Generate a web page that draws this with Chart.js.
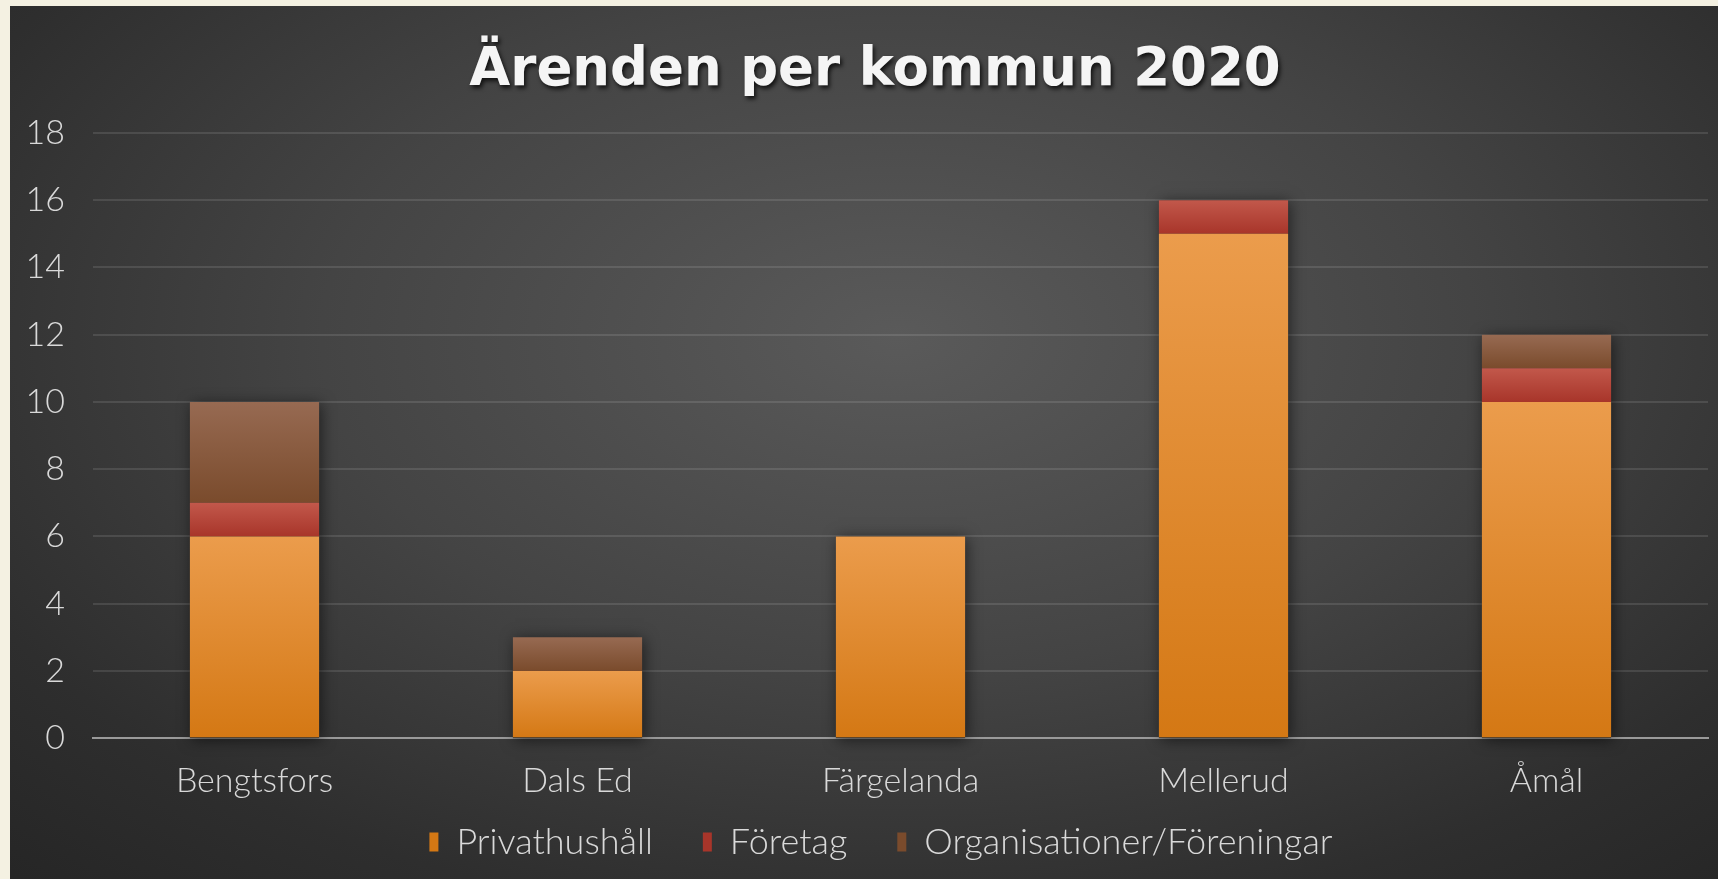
<!DOCTYPE html>
<html>
<head>
<meta charset="utf-8">
<script src="https://cdn.jsdelivr.net/npm/chart.js@4.4.1/dist/chart.umd.min.js"></script>
<style>
  html, body { margin: 0; padding: 0; background: #f4f1e2; }
  #panel {
    position: absolute; left: 10px; top: 6px; width: 1708px; height: 873px;
    background: radial-gradient(ellipse 75% 85% at 52% 38%, #5a5a5a 0%, #444 45%, #2e2e2e 80%, #262626 100%);
  }
  #chart { display: block; }
</style>
</head>
<body>
<div id="panel"><canvas id="chart" width="1708" height="873"></canvas></div>
<script>
// Data
const TITLE = 'Ärenden per kommun 2020';
const categories = ['Bengtsfors', 'Dals Ed', 'Färgelanda', 'Mellerud', 'Åmål'];
const seriesNames = ['Privathushåll', 'Företag', 'Organisationer/Föreningar'];
const privathushall = [6, 2, 6, 15, 10];
const foretag = [1, 0, 0, 1, 1];
const organisationer = [3, 1, 0, 0, 1];
const yMin = 0, yMax = 18, yStep = 2;

const FONT = "Lato, 'Open Sans', sans-serif";
const TEXT = '#d9d9d9';

// vertical gradient for one stacked segment
function segGradient(topColor, bottomColor, flat) {
    return (c) => {
        if (c.type !== 'data') return flat;
        const chart = c.chart;
        const { ctx, chartArea, scales } = chart;
        if (!chartArea) return flat;
        const ds = chart.data.datasets;
        let base = 0;
        for (let k = 0; k < c.datasetIndex; k++) base += ds[k].data[c.dataIndex];
        const v = ds[c.datasetIndex].data[c.dataIndex];
        const y0 = scales.y.getPixelForValue(base);
        const y1 = scales.y.getPixelForValue(base + v);
        if (y0 === y1) return flat;
        const g = ctx.createLinearGradient(0, y1, 0, y0);
        g.addColorStop(0, topColor);
        g.addColorStop(1, bottomColor);
        return g;
    };
}

// soft shadow behind each full stack
const stackShadow = {
    id: 'stackShadow',
    beforeDatasetsDraw(chart) {
        const { ctx, scales } = chart;
        const meta = chart.getDatasetMeta(0);
        ctx.save();
        ctx.shadowColor = 'rgba(0,0,0,0.55)';
        ctx.shadowBlur = 14;
        ctx.shadowOffsetX = 2;
        ctx.shadowOffsetY = 2;
        ctx.fillStyle = '#333';
        meta.data.forEach((bar, i) => {
            let total = 0;
            chart.data.datasets.forEach(d => total += d.data[i]);
            const top = scales.y.getPixelForValue(total);
            const bottom = scales.y.getPixelForValue(0);
            ctx.fillRect(bar.x - bar.width / 2, top, bar.width, bottom - top);
        });
        ctx.restore();
    }
};

// title with a drop shadow
const shadowTitle = {
    id: 'shadowTitle',
    afterDraw(chart) {
        const { ctx } = chart;
        ctx.save();
        ctx.font = "bold 53px 'DejaVu Sans', sans-serif";
        ctx.textAlign = 'center';
        ctx.textBaseline = 'middle';
        ctx.shadowColor = 'rgba(0,0,0,0.75)';
        ctx.shadowBlur = 4;
        ctx.shadowOffsetX = 2;
        ctx.shadowOffsetY = 3;
        ctx.fillStyle = '#f5f5f5';
        ctx.fillText(TITLE, 865, 65);
        ctx.restore();
    }
};

// tick labels may spill outside their (tightened) scale boxes
const noLabelClip = (scale) => { scale._computeLabelArea = () => undefined; };

const ctx = document.getElementById('chart');
new Chart(ctx, {
    type: 'bar',
    data: {
        labels: categories,
        datasets: [
            {
                label: seriesNames[0],
                data: privathushall,
                backgroundColor: segGradient('#eb9c4c', '#d47814', '#e0892e'),
            },
            {
                label: seriesNames[1],
                data: foretag,
                backgroundColor: segGradient('#c2584b', '#a8352a', '#b4463a'),
            },
            {
                label: seriesNames[2],
                data: organisationer,
                backgroundColor: segGradient('#976a52', '#7a4b2c', '#8a5b3e'),
            },
        ],
    },
    options: {
        responsive: false,
        animation: false,
        layout: {
            padding: { top: 127, left: 44, right: 10, bottom: 9 },
        },
        datasets: {
            bar: {
                categoryPercentage: 1,
                barPercentage: 0.4,
                borderWidth: 0,
            },
        },
        scales: {
            x: {
                stacked: true,
                afterFit(scale) { scale.height -= 49; noLabelClip(scale); },
                grid: { display: false, drawTicks: false },
                border: { display: true, color: '#9a9a9a', width: 2 },
                ticks: {
                    color: TEXT,
                    padding: 22,
                    font: { family: FONT, size: 34, weight: 300 },
                },
            },
            y: {
                stacked: true,
                min: yMin,
                max: yMax,
                afterFit(scale) { scale.width = 39; noLabelClip(scale); },
                grid: {
                    color: 'rgba(255,255,255,0.11)',
                    lineWidth: 2,
                    drawTicks: false,
                },
                border: { display: false },
                ticks: {
                    stepSize: yStep,
                    color: TEXT,
                    padding: 28,
                    font: { family: FONT, size: 34, weight: 300 },
                },
            },
        },
        plugins: {
            title: { display: false },
            tooltip: { enabled: false },
            legend: {
                position: 'bottom',
                onClick: () => {},
                labels: {
                    color: TEXT,
                    boxWidth: 9,
                    boxHeight: 19,
                    padding: 50,
                    font: { family: FONT, size: 36, weight: 300 },
                },
            },
        },
    },
    plugins: [stackShadow, shadowTitle],
});
</script>
</body>
</html>
